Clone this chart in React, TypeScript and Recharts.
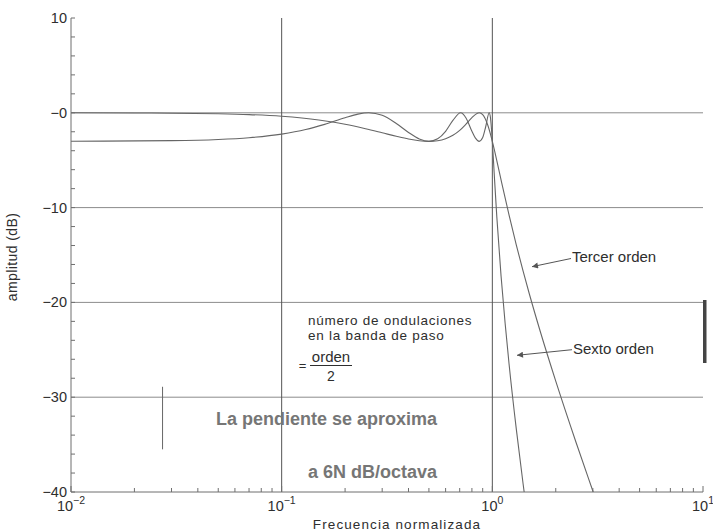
import React from 'react';
import { LineChart, Line, XAxis, YAxis, ReferenceLine } from 'recharts';

// Chebyshev 3 dB ripple low-pass responses
const thirdF = [0.01, 0.02, 0.03, 0.05, 0.07, 0.1, 0.15, 0.2, 0.25, 0.3, 0.35, 0.4, 0.45, 0.5, 0.55, 0.6, 0.65, 0.7, 0.75, 0.8, 0.85, 0.866, 0.9, 0.95, 1.0, 1.02, 1.05, 1.1, 1.2, 1.3, 1.4, 1.5, 1.7, 2.0, 2.5, 3.0, 3.2];
const thirdDb = [0, -0.02, -0.04, -0.1, -0.19, -0.37, -0.76, -1.21, -1.68, -2.11, -2.48, -2.77, -2.95, -3.01, -2.94, -2.73, -2.37, -1.85, -1.19, -0.51, -0.04, 0, -0.2, -1.26, -3.01, -3.81, -5.04, -7.07, -10.78, -13.96, -16.71, -19.14, -23.28, -28.3, -34.8, -39.9, -41.7];

const sixthF = [0.01, 0.03, 0.05, 0.07, 0.1, 0.13, 0.16, 0.2, 0.23, 0.259, 0.3, 0.35, 0.4, 0.45, 0.5, 0.55, 0.6, 0.65, 0.707, 0.75, 0.8, 0.83, 0.866, 0.9, 0.93, 0.966, 0.98, 1.0, 1.02, 1.05, 1.1, 1.15, 1.2, 1.3, 1.4, 1.45];
const sixthDb = [-3.0, -2.94, -2.82, -2.63, -2.25, -1.77, -1.22, -0.52, -0.14, 0, -0.27, -1.13, -2.07, -2.76, -3.01, -2.74, -1.95, -0.8, 0, -0.55, -1.95, -2.65, -3.01, -2.61, -1.47, 0, -0.53, -3.01, -6.3, -10.95, -17.22, -22.2, -26.44, -33.4, -39.16, -41.73];

const xTicks = [0.01, 0.02, 0.03, 0.04, 0.05, 0.06, 0.07, 0.08, 0.09, 0.1, 0.2, 0.3, 0.4, 0.5, 0.6, 0.7, 0.8, 0.9, 1, 2, 3, 4, 5, 6, 7, 8, 9, 10];
const yTicks = [-40, -38, -36, -34, -32, -30, -28, -26, -24, -22, -20, -18, -16, -14, -12, -10, -8, -6, -4, -2, 0, 2, 4, 6, 8, 10];
const hGrid = [0, -10, -20, -30];
const vGrid = [0.1, 1];
// short vertical mark in the lower left
const markX = 0.0272;
const markY = [-28.9, -35.5];

const thirdData = thirdF.map((f, i) => ({ f, db: thirdDb[i] }));
const sixthData = sixthF.map((f, i) => ({ f, db: sixthDb[i] }));

const AXIS = '#6f6f6f';
const CURVE = '#666';
const TEXT = '#2e2e2e';
const FONT = '"Liberation Sans", Arial, Helvetica, sans-serif';

const isMajorX = (v: number) => {
  const e = Math.log10(v);
  return Math.abs(e - Math.round(e)) < 1e-6;
};

const BottomTick = (props: any) => {
  const { x, y, payload } = props;
  const v = payload.value;
  const major = isMajorX(v);
  const exp = Math.round(Math.log10(v));
  return (
    <g>
      <line x1={x} y1={y} x2={x} y2={y - (major ? 6 : 4)} stroke={AXIS} />
      {major && (
        <text x={x} y={y + 19} textAnchor="middle" fontSize={14.5} fill={TEXT} fontFamily={FONT}>
          10
          <tspan dy={-7} fontSize={10.5}>{exp < 0 ? '−' + -exp : String(exp)}</tspan>
        </text>
      )}
    </g>
  );
};

const TopTick = (props: any) => {
  const { x, y, payload } = props;
  const major = isMajorX(payload.value);
  return <line x1={x} y1={y} x2={x} y2={y + (major ? 6 : 5)} stroke={AXIS} />;
};

const LeftTick = (props: any) => {
  const { x, y, payload } = props;
  const v = payload.value;
  const label = v === 0 ? '−0' : v < 0 ? '−' + -v : String(v);
  return (
    <g>
      <line x1={x} y1={y} x2={x + 4} y2={y} stroke={AXIS} />
      {v % 10 === 0 && (
        <text x={x - 4} y={y + 5} textAnchor="end" fontSize={14.5} fill={TEXT} fontFamily={FONT}>
          {label}
        </text>
      )}
    </g>
  );
};

const RightTick = (props: any) => {
  const { x, y } = props;
  return <line x1={x} y1={y} x2={x - 4} y2={y} stroke={AXIS} />;
};

const Annotations = () => (
  <svg
    width={713}
    height={532}
    style={{ position: 'absolute', left: 0, top: 0, pointerEvents: 'none' }}
    fontFamily={FONT}
  >
    <defs>
      <marker id="ah" viewBox="0 0 10 10" refX="10" refY="5" markerWidth="8" markerHeight="6" orient="auto">
        <path d="M0,0 L10,5 L0,10 z" fill="#555" />
      </marker>
    </defs>
    <text x={12} y={257} transform="rotate(-90 12 257)" textAnchor="middle" dominantBaseline="central" fontSize={14} fill={TEXT} letterSpacing={0.4}>
      amplitud (dB)
    </text>
    <text x={397} y={529} textAnchor="middle" fontSize={13.5} fill={TEXT} letterSpacing={1.1}>
      Frecuencia normalizada
    </text>

    <text x={572} y={262} fontSize={15} fill={TEXT}>Tercer orden</text>
    <line x1={571} y1={258.5} x2={532} y2={266.7} stroke="#555" strokeWidth={1} markerEnd="url(#ah)" />
    <text x={573} y={354} fontSize={15} fill={TEXT}>Sexto orden</text>
    <line x1={572} y1={349.7} x2={517} y2={355.3} stroke="#555" strokeWidth={1} markerEnd="url(#ah)" />

    <text x={308} y={325} fontSize={13.5} fill={TEXT} letterSpacing={0.75}>número de ondulaciones</text>
    <text x={308} y={340} fontSize={13.5} fill={TEXT} letterSpacing={0.75}>en la banda de paso</text>
    <text x={302.5} y={370} textAnchor="middle" fontSize={13} fill={TEXT}>=</text>
    <text x={331} y={362} textAnchor="middle" fontSize={15} fill={TEXT}>orden</text>
    <line x1={310} y1={365.5} x2={352} y2={365.5} stroke={TEXT} strokeWidth={1} />
    <text x={331} y={381} textAnchor="middle" fontSize={14} fill={TEXT}>2</text>

    <text x={437} y={425} textAnchor="end" fontSize={18} fontWeight="bold" fill="#767676">La pendiente se aproxima</text>
    <text x={437} y={478} textAnchor="end" fontSize={18} fontWeight="bold" fill="#767676">a 6N dB/octava</text>

    <rect x={703} y={300} width={3.5} height={63} fill="#444" />
  </svg>
);

export default function App() {
  return (
    <div style={{ position: 'absolute', left: 0, top: 0, width: 713, height: 532, background: '#fff' }}>
      <LineChart width={713} height={532} margin={{ top: 18, right: 10, bottom: 0, left: 0 }}>
        <XAxis
          dataKey="f"
          type="number"
          scale="log"
          domain={[0.01, 10]}
          allowDataOverflow
          ticks={xTicks}
          interval={0}
          tick={<BottomTick />}
          tickLine={false}
          tickSize={0}
          tickMargin={0}
          height={40}
          axisLine={{ stroke: AXIS }}
        />
        <XAxis
          xAxisId="top"
          orientation="top"
          dataKey="f"
          type="number"
          scale="log"
          domain={[0.01, 10]}
          allowDataOverflow
          ticks={xTicks}
          interval={0}
          tick={<TopTick />}
          tickLine={false}
          tickSize={0}
          tickMargin={0}
          height={0}
          axisLine={{ stroke: AXIS }}
        />
        <YAxis
          type="number"
          domain={[-40, 10]}
          allowDataOverflow
          ticks={yTicks}
          interval={0}
          tick={<LeftTick />}
          tickLine={false}
          tickSize={0}
          tickMargin={0}
          width={71}
          axisLine={{ stroke: AXIS }}
        />
        <YAxis
          yAxisId="r"
          orientation="right"
          type="number"
          domain={[-40, 10]}
          allowDataOverflow
          ticks={yTicks}
          interval={0}
          tick={<RightTick />}
          tickLine={false}
          tickSize={0}
          tickMargin={0}
          width={0}
          axisLine={{ stroke: AXIS }}
        />
        {hGrid.map((v) => (
          <ReferenceLine key={'h' + v} y={v} stroke="#8c8c8c" strokeWidth={1} />
        ))}
        {vGrid.map((v) => (
          <ReferenceLine key={'v' + v} x={v} stroke="#555" strokeWidth={1} />
        ))}
        <ReferenceLine
          segment={[
            { x: markX, y: markY[0] },
            { x: markX, y: markY[1] },
          ]}
          stroke="#666"
        />
        <Line data={thirdData} dataKey="db" type="monotone" stroke={CURVE} strokeWidth={1.1} dot={false} isAnimationActive={false} />
        <Line data={sixthData} dataKey="db" type="monotone" stroke={CURVE} strokeWidth={1.1} dot={false} isAnimationActive={false} />
      </LineChart>
      <Annotations />
    </div>
  );
}
